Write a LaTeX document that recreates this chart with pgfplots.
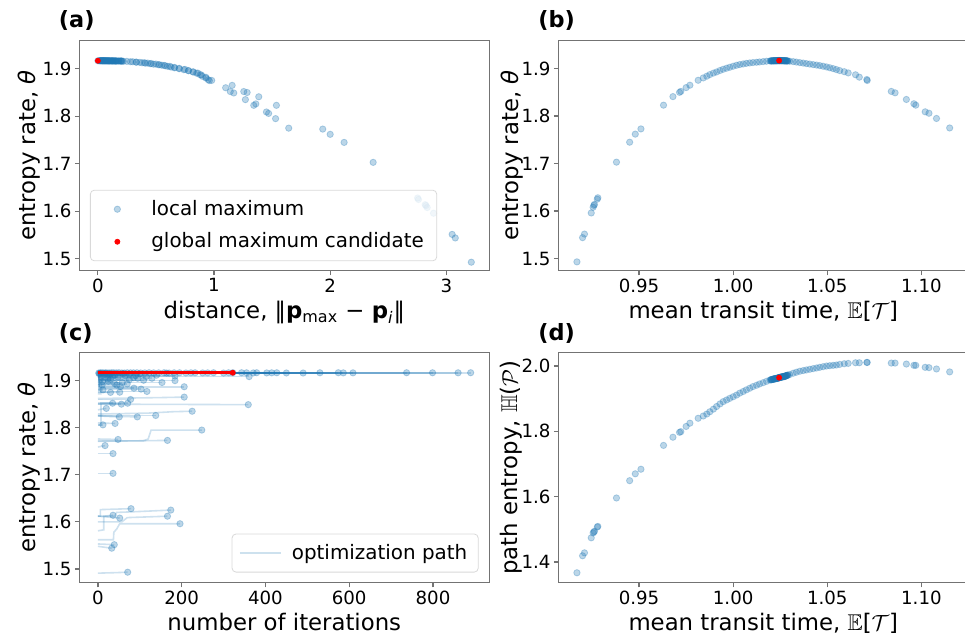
\documentclass[border=0pt]{standalone}
\usepackage{fontspec}
\setmainfont{DejaVu Sans}
\usepackage{amssymb}
\usepackage{pgfplots}
\usepackage{pgfplotstable}
\pgfplotsset{compat=1.18}
\definecolor{c0}{HTML}{1F77B4}
\newcommand\tickfont{\fontsize{9.1}{10}\selectfont}
\newcommand\labfont{\fontsize{11.4}{13}\selectfont}
\newcommand\legfont{\fontsize{9.95}{12}\selectfont}

% columns: mean transit time T, entropy rate th, path entropy H, distance d, iterations it
\pgfplotstableread{
T th H d it
0.9170 1.4930 1.367 3.215 71
0.9200 1.5440 1.419 3.077 33
0.9210 1.5515 1.428 3.050 39
0.9246 1.5960 1.474 2.890 196
0.9256 1.6080 1.489 2.835 52
0.9260 1.6120 1.492 2.825 166
0.9263 1.6140 1.494 2.818 36
0.9278 1.6250 1.507 2.760 174
0.9281 1.6280 1.509 2.753 79
0.9380 1.7030 1.596 2.370 36
0.9450 1.7450 1.649 2.120 36
0.9480 1.7620 1.670 2.000 17
0.9510 1.7730 1.684 1.936 166
0.9630 1.8230 1.757 1.537 94
0.9680 1.8410 1.782 1.385 20
0.9715 1.8500 1.797 1.285 56
0.9722 1.8520 1.799 1.140 35
0.9750 1.8600 1.815 1.100 78
0.9770 1.8650 1.825 1.156 206
0.9814 1.8754 1.840 0.980 52
1.1150 1.7750 1.982 1.643 48
1.1080 1.7950 1.991 1.530 248
1.1040 1.8060 1.995 1.470 12
1.1020 1.8090 1.996 1.451 41
1.0970 1.8230 2.002 1.342 51
1.0960 1.8260 2.002 1.360 138
1.0920 1.8350 2.006 1.270 225
1.0860 1.8490 2.009 1.170 359
1.0840 1.8520 2.009 1.256 71
1.0710 1.8770 2.011 0.950 117
1.0712 1.8750 2.011 0.960 30
1.0670 1.8820 2.010 0.930 103
1.0650 1.8870 2.010 0.890 206
1.0611 1.8909 2.008 0.860 10
0.9841 1.8804 1.847 0.930 12
0.9860 1.8840 1.853 0.900 86
0.9876 1.8874 1.860 0.880 54
0.9895 1.8905 1.868 0.850 45
0.9912 1.8930 1.876 0.820 70
0.9930 1.8960 1.884 0.780 153
0.9947 1.8986 1.891 0.750 25
0.9965 1.9008 1.896 0.700 109
0.9982 1.9028 1.901 0.660 30
1.0000 1.9050 1.906 0.620 129
1.0018 1.9070 1.911 0.570 8
1.0035 1.9085 1.917 0.530 361
1.0053 1.9098 1.922 0.500 184
1.0070 1.9110 1.927 0.460 90
1.0088 1.9119 1.932 0.430 40
1.0105 1.9127 1.937 0.400 22
1.0124 1.9133 1.941 0.360 15
1.0140 1.9140 1.945 0.330 100
1.0159 1.9147 1.949 0.300 60
1.0177 1.9155 1.953 0.250 5
1.0195 1.9161 1.957 0.200 164
1.0300 1.9155 1.974 0.220 18
1.0319 1.9147 1.978 0.280 3
1.0336 1.9137 1.981 0.330 75
1.0354 1.9126 1.984 0.380 28
1.0372 1.9116 1.986 0.410 140
1.0389 1.9105 1.988 0.450 65
1.0407 1.9095 1.990 0.480 35
1.0425 1.9084 1.992 0.520 115
1.0443 1.9074 1.994 0.550 48
1.0460 1.9063 1.996 0.580 85
1.0478 1.9050 1.998 0.600 95
1.0496 1.9035 2.000 0.630 24
1.0513 1.9018 2.001 0.660 75
1.0531 1.9000 2.002 0.700 184
1.0548 1.8980 2.003 0.740 11
1.0566 1.8958 2.005 0.780 58
1.0590 1.8935 2.007 0.820 40
1.0200 1.9162 1.958 0.190 2
1.0262 1.9167 1.967 0.050 6
1.0215 1.9165 1.960 0.140 10
1.0275 1.9164 1.969 0.110 14
1.0230 1.9167 1.962 0.080 19
1.0288 1.9162 1.972 0.170 24
1.0208 1.9163 1.959 0.160 28
1.0252 1.9168 1.966 0.030 33
1.0222 1.9166 1.961 0.100 38
1.0270 1.9165 1.968 0.090 44
1.0238 1.9168 1.963 0.040 50
1.0280 1.9163 1.970 0.150 57
1.0204 1.9162 1.958 0.200 63
1.0258 1.9167 1.966 0.060 70
1.0226 1.9166 1.961 0.120 78
1.0266 1.9166 1.967 0.070 85
1.0234 1.9167 1.962 0.070 93
1.0284 1.9163 1.971 0.160 102
1.0212 1.9164 1.960 0.150 112
1.0248 1.9168 1.965 0.020 122
1.0218 1.9165 1.960 0.130 133
1.0272 1.9165 1.968 0.100 145
1.0242 1.9168 1.964 0.030 158
1.0290 1.9161 1.972 0.210 170
1.0228 1.9166 1.962 0.090 182
1.0256 1.9167 1.966 0.050 195
1.0206 1.9163 1.959 0.180 210
1.0264 1.9166 1.967 0.080 222
1.0236 1.9167 1.963 0.060 232
1.0278 1.9164 1.969 0.130 250
1.0220 1.9165 1.961 0.120 262
1.0250 1.9168 1.965 0.040 276
1.0286 1.9162 1.971 0.180 300
1.0232 1.9167 1.962 0.070 312
1.0246 1.9168 1.965 0.020 343
1.0268 1.9166 1.968 0.090 355
1.0214 1.9164 1.960 0.140 371
1.0240 1.9168 1.964 0.030 379
1.0276 1.9164 1.969 0.120 403
1.0224 1.9166 1.961 0.110 415
1.0254 1.9167 1.966 0.050 427
1.0282 1.9163 1.970 0.150 450
1.0202 1.9162 1.958 0.200 490
1.0260 1.9167 1.967 0.060 530
1.0244 1.9168 1.964 0.010 574
1.0216 1.9165 1.960 0.130 586
1.0272 1.9165 1.968 0.100 609
1.0238 1.9168 1.963 0.040 737
1.0256 1.9167 1.966 0.050 799
1.0228 1.9166 1.962 0.080 860
1.0248 1.9168 1.965 0.020 890
1.0244 1.9168 1.9643 0.000 322
}\maxima

\pgfplotsset{
  panel/.style={
    scale only axis, width=205pt, height=115.3pt, anchor=north west,
    axis line style={black!55, line width=0.6pt},
    every tick/.style={black!55, line width=0.6pt},
    tick align=outside, major tick length=2.2pt,
    xtick pos=bottom, ytick pos=left,
    tick label style={font=\tickfont},
    xticklabel style={inner sep=1.5pt},
    yticklabel style={inner sep=1.5pt},
    label style={font=\labfont},
    /pgf/number format/assume math mode=true,
    xlabel style={at={(axis description cs:0.5,0)}, anchor=base, yshift=-24pt},
    clip mode=individual,
  },
  lmax/.style={only marks, mark=*, mark size=1.6pt, c0, opacity=0.3},
  gmax/.style={only marks, mark=*, mark size=1.25pt, red, opacity=1, fill opacity=1},
  pth/.style={c0, opacity=0.22, line width=0.8pt, forget plot},
}
\newcommand{\pth}[1]{\addplot[pth] coordinates {#1};}

\begin{document}
\begin{tikzpicture}
\path[use as bounding box] (0,0) rectangle (482.5pt,-317.5pt);

% ---------------- (a)
\begin{axis}[panel, at={(39.65pt,-20.15pt)},
  xmin=-0.16, xmax=3.37, ymin=1.4747, ymax=1.9598,
  xtick={0,1,2,3}, ytick={1.5,1.6,1.7,1.8,1.9},
  yticklabel style={/pgf/number format/.cd, fixed, fixed zerofill, precision=1},
  xlabel={distance, ‖\textbf{p}\textsubscript{max} − \textbf{p}\textsubscript{\textit{i}}‖},
  ylabel={entropy rate, \textit{θ}},
  ylabel style={at={(axis description cs:-0.1226,0.5)}, anchor=center},
  legend image code/.code={\draw[#1] plot coordinates {(9pt,0pt)}; \path[draw=none, fill=none] (0pt,-3pt) (24pt,3pt);},
  legend style={at={(0.026,0.042)}, anchor=south west, draw=black!15, rounded corners=2pt,
    fill=white, fill opacity=0.8, draw opacity=1, text opacity=1, font=\legfont,
    inner xsep=4.5pt, inner ysep=3pt, row sep=3.2pt, cells={anchor=west}},
  legend cell align=left]
\addplot[lmax] table[x=d, y=th] {\maxima};
\addlegendentry{local maximum}
\addplot[gmax] coordinates {(0.000,1.9168)};
\addlegendentry{global maximum candidate}
\end{axis}

% ---------------- (b)
\begin{axis}[panel, at={(279.15pt,-20.15pt)},
  xmin=0.9071, xmax=1.1249, ymin=1.474, ymax=1.9596,
  xtick={0.95,1.00,1.05,1.10}, ytick={1.5,1.6,1.7,1.8,1.9},
  xticklabel style={/pgf/number format/.cd, fixed, fixed zerofill, precision=2},
  yticklabel style={/pgf/number format/.cd, fixed, fixed zerofill, precision=1},
  xlabel={mean transit time, $\mathbb{E}$[$\mathcal{T}$]},
  ylabel={entropy rate, \textit{θ}},
  ylabel style={at={(axis description cs:-0.113,0.5)}, anchor=center}]
\addplot[lmax] table[x=T, y=th] {\maxima};
\addplot[gmax] coordinates {(1.0244,1.9168)};
\end{axis}

% ---------------- (c)
\begin{axis}[panel, at={(39.65pt,-176.15pt)},
  xmin=-44.5, xmax=934.5, ymin=1.4703, ymax=1.9602,
  xtick={0,200,400,600,800}, ytick={1.5,1.6,1.7,1.8,1.9},
  yticklabel style={/pgf/number format/.cd, fixed, fixed zerofill, precision=1},
  xlabel={number of iterations},
  ylabel={entropy rate, \textit{θ}},
  ylabel style={at={(axis description cs:-0.1226,0.5)}, anchor=center},
  legend image code/.code={\draw[#1] (0pt,0pt) -- (20.5pt,0pt); \path[draw=none, fill=none] (0pt,-3pt) (24pt,3pt);},
  legend style={at={(0.974,0.045)}, anchor=south east, draw=black!15, rounded corners=2pt,
    fill=white, fill opacity=0.8, draw opacity=1, text opacity=1, font=\legfont,
    inner xsep=3.5pt, inner ysep=3pt}]
% optimization paths
\pth{(0,1.491)(40,1.492)(71,1.4930)}
\pth{(0,1.548)(33,1.544)}
\pth{(0,1.553)(39,1.5515)}
\pth{(0,1.562)(37,1.562)(38,1.578)(45,1.585)(52,1.596)(196,1.596)}
\pth{(0,1.612)(52,1.608)}
\pth{(0,1.600)(57,1.600)(70,1.609)(166,1.612)}
\pth{(0,1.581)(14,1.583)(14,1.612)(36,1.614)}
\pth{(0,1.612)(40,1.612)(45,1.620)(100,1.622)(174,1.625)}
\pth{(0,1.612)(6,1.612)(6,1.626)(79,1.628)}
\pth{(0,1.703)(36,1.703)}
\pth{(0,1.745)(36,1.745)}
\pth{(0,1.759)(17,1.762)}
\pth{(0,1.771)(166,1.773)}
\pth{(0,1.825)(94,1.823)}
\pth{(0,1.838)(20,1.841)}
\pth{(0,1.850)(56,1.850)}
\pth{(0,1.806)(8,1.806)(8,1.852)(35,1.852)}
\pth{(0,1.860)(78,1.860)}
\pth{(0,1.862)(150,1.864)(206,1.865)}
\pth{(0,1.875)(52,1.8754)}
\pth{(0,1.776)(48,1.775)}
\pth{(0,1.772)(108,1.772)(120,1.776)(127,1.795)(248,1.795)}
\pth{(0,1.806)(12,1.806)}
\pth{(0,1.810)(41,1.809)}
\pth{(0,1.825)(51,1.823)}
\pth{(0,1.826)(138,1.826)}
\pth{(0,1.829)(120,1.831)(180,1.834)(225,1.835)}
\pth{(0,1.850)(359,1.849)}
\pth{(0,1.852)(71,1.852)}
\pth{(0,1.877)(117,1.877)}
\pth{(0,1.875)(30,1.875)}
\pth{(0,1.882)(103,1.882)}
\pth{(0,1.887)(206,1.887)}
\pth{(0,1.891)(10,1.8909)}
\pth{(0,1.8804)(12,1.8804)}
\pth{(0,1.8840)(86,1.8840)}
\pth{(0,1.8874)(54,1.8874)}
\pth{(0,1.8905)(45,1.8905)}
\pth{(0,1.8930)(70,1.8930)}
\pth{(0,1.8960)(153,1.8960)}
\pth{(0,1.8986)(25,1.8986)}
\pth{(0,1.9008)(109,1.9008)}
\pth{(0,1.9028)(30,1.9028)}
\pth{(0,1.9050)(129,1.9050)}
\pth{(0,1.9070)(8,1.9070)}
\pth{(0,1.9085)(361,1.9085)}
\pth{(0,1.9098)(184,1.9098)}
\pth{(0,1.9110)(90,1.9110)}
\pth{(0,1.9119)(40,1.9119)}
\pth{(0,1.9127)(22,1.9127)}
\pth{(0,1.9133)(15,1.9133)}
\pth{(0,1.9140)(100,1.9140)}
\pth{(0,1.9147)(60,1.9147)}
\pth{(0,1.9155)(5,1.9155)}
\pth{(0,1.9161)(164,1.9161)}
\pth{(0,1.9155)(18,1.9155)}
\pth{(0,1.9147)(3,1.9147)}
\pth{(0,1.9137)(75,1.9137)}
\pth{(0,1.9126)(28,1.9126)}
\pth{(0,1.9116)(140,1.9116)}
\pth{(0,1.9105)(65,1.9105)}
\pth{(0,1.9095)(35,1.9095)}
\pth{(0,1.9084)(115,1.9084)}
\pth{(0,1.9074)(48,1.9074)}
\pth{(0,1.9063)(85,1.9063)}
\pth{(0,1.9050)(95,1.9050)}
\pth{(0,1.9035)(24,1.9035)}
\pth{(0,1.9018)(75,1.9018)}
\pth{(0,1.9000)(184,1.9000)}
\pth{(0,1.8980)(11,1.8980)}
\pth{(0,1.8958)(58,1.8958)}
\pth{(0,1.8935)(40,1.8935)}
\pth{(0,1.9162)(2,1.9162)}
\pth{(0,1.9167)(6,1.9167)}
\pth{(0,1.9165)(10,1.9165)}
\pth{(0,1.9164)(14,1.9164)}
\pth{(0,1.9167)(19,1.9167)}
\pth{(0,1.9162)(24,1.9162)}
\pth{(0,1.9163)(28,1.9163)}
\pth{(0,1.9168)(33,1.9168)}
\pth{(0,1.9166)(38,1.9166)}
\pth{(0,1.9165)(44,1.9165)}
\pth{(0,1.9168)(50,1.9168)}
\pth{(0,1.9163)(57,1.9163)}
\pth{(0,1.880)(4,1.880)(4,1.9162)(63,1.9162)}
\pth{(0,1.9167)(70,1.9167)}
\pth{(0,1.9166)(78,1.9166)}
\pth{(0,1.9166)(85,1.9166)}
\pth{(0,1.9167)(93,1.9167)}
\pth{(0,1.9163)(102,1.9163)}
\pth{(0,1.872)(7,1.872)(9,1.9164)(112,1.9164)}
\pth{(0,1.9168)(122,1.9168)}
\pth{(0,1.9165)(133,1.9165)}
\pth{(0,1.9165)(145,1.9165)}
\pth{(0,1.9168)(158,1.9168)}
\pth{(0,1.9161)(170,1.9161)}
\pth{(0,1.9166)(182,1.9166)}
\pth{(0,1.888)(3,1.888)(3,1.9167)(195,1.9167)}
\pth{(0,1.9163)(210,1.9163)}
\pth{(0,1.9166)(222,1.9166)}
\pth{(0,1.9167)(232,1.9167)}
\pth{(0,1.9164)(250,1.9164)}
\pth{(0,1.9165)(262,1.9165)}
\pth{(0,1.9168)(276,1.9168)}
\pth{(0,1.9162)(300,1.9162)}
\pth{(0,1.9167)(312,1.9167)}
\pth{(0,1.9168)(343,1.9168)}
\pth{(0,1.9166)(355,1.9166)}
\pth{(0,1.9164)(371,1.9164)}
\pth{(0,1.9168)(379,1.9168)}
\pth{(0,1.9164)(403,1.9164)}
\pth{(0,1.9166)(415,1.9166)}
\pth{(0,1.897)(10,1.897)(12,1.9167)(427,1.9167)}
\pth{(0,1.9163)(450,1.9163)}
\pth{(0,1.9162)(490,1.9162)}
\pth{(0,1.9167)(530,1.9167)}
\pth{(0,1.9168)(574,1.9168)}
\pth{(0,1.9165)(586,1.9165)}
\pth{(0,1.9165)(609,1.9165)}
\pth{(0,1.9168)(737,1.9168)}
\pth{(0,1.9167)(799,1.9167)}
\pth{(0,1.9166)(860,1.9166)}
\pth{(0,1.9168)(890,1.9168)}
\addplot[lmax, forget plot] table[x=it, y=th] {\maxima};
\addplot[red, line width=1.3pt, forget plot] coordinates {(0,1.9168)(322,1.9168)};
\addplot[gmax, forget plot] coordinates {(322,1.9168)};
\addlegendimage{c0, opacity=0.22, line width=0.8pt}
\addlegendentry{optimization path}
\end{axis}

% ---------------- (d)
\begin{axis}[panel, at={(279.15pt,-176.15pt)},
  xmin=0.9071, xmax=1.1249, ymin=1.336, ymax=2.042,
  xtick={0.95,1.00,1.05,1.10}, ytick={1.4,1.6,1.8,2.0},
  xticklabel style={/pgf/number format/.cd, fixed, fixed zerofill, precision=2},
  yticklabel style={/pgf/number format/.cd, fixed, fixed zerofill, precision=1},
  xlabel={mean transit time, $\mathbb{E}$[$\mathcal{T}$]},
  ylabel={path entropy, $\mathbb{H}$($\mathcal{P}$)},
  ylabel style={at={(axis description cs:-0.115,0.5)}, anchor=center}]
\addplot[lmax] table[x=T, y=H] {\maxima};
\addplot[gmax] coordinates {(1.0244,1.9643)};
\end{axis}

\node[anchor=west, inner sep=0pt, font=\bfseries\fontsize{11.2}{13}\selectfont] at (29.25pt,-10pt) {(a)};
\node[anchor=west, inner sep=0pt, font=\bfseries\fontsize{11.2}{13}\selectfont] at (269pt,-10pt) {(b)};
\node[anchor=west, inner sep=0pt, font=\bfseries\fontsize{11.2}{13}\selectfont] at (29.25pt,-166.5pt) {(c)};
\node[anchor=west, inner sep=0pt, font=\bfseries\fontsize{11.2}{13}\selectfont] at (269pt,-166.5pt) {(d)};
\end{tikzpicture}
\end{document}
